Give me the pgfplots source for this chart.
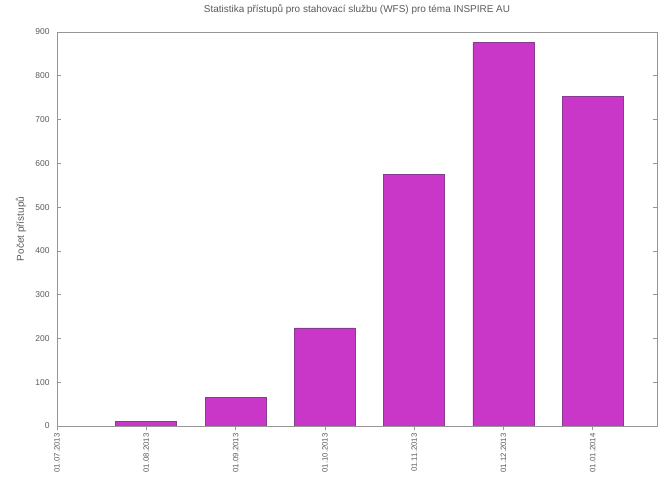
\documentclass[border=0pt]{standalone}
\usepackage{pgfplots}
\pgfplotsset{compat=1.18}
\usepackage{fontspec}
\setmainfont{Liberation Sans}
\definecolor{barfill}{RGB}{200,55,200}
\definecolor{bardraw}{RGB}{135,60,145}
\definecolor{axgray}{RGB}{150,150,150}
\definecolor{txtgray}{RGB}{90,90,90}
\begin{document}
\begin{tikzpicture}
\useasboundingbox (0bp,0bp) rectangle (660bp,477bp);
\begin{axis}[
  at={(57bp,51bp)}, anchor=south west,
  scale only axis, width=600bp, height=394bp,
  xmin=0, xmax=6.72, ymin=0, ymax=900,
  ytick={0,100,...,900},
  xtick={0,1,2,3,4,5,6},
  xticklabels={01.07.2013,01.08.2013,01.09.2013,01.10.2013,01.11.2013,01.12.2013,01.01.2014},
  xtick pos=bottom, ytick pos=both,
  tick align=inside, major tick length=4bp,
  axis line style={axgray, line width=0.8bp},
  every tick/.style={axgray, line width=0.6bp},
  x tick label style={rotate=90, anchor=east, font=\fontsize{7.8}{8}\selectfont, text=txtgray},
  y tick label style={font=\fontsize{8.5}{9}\selectfont, text=txtgray, xshift=-4bp},
  /pgf/number format/assume math mode=true,
  ylabel={Počet přístupů},
  ylabel style={font=\fontsize{10}{11}\selectfont, text=txtgray, at={(axis description cs:-0.06,0.5)}, anchor=center},
  title={Statistika přístupů pro stahovací službu (WFS) pro téma INSPIRE AU},
  title style={font=\fontsize{10}{11}\selectfont, text=txtgray, at={(axis description cs:0.5,1)}, anchor=center, yshift=17bp},
  ybar, bar width=61bp,
]
\addplot[fill=barfill, draw=bardraw, line width=0.8bp] coordinates {
  (1,10) (2,66) (3,224) (4,574) (5,876) (6,752)
};
\end{axis}
\end{tikzpicture}
\end{document}
